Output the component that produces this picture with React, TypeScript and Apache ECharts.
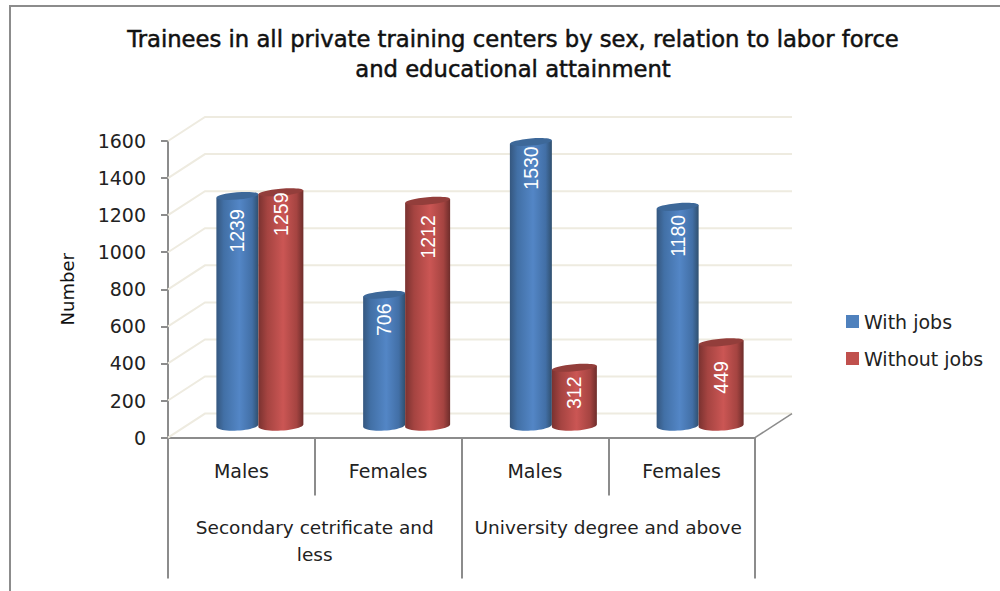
import React, { useEffect, useRef } from "react";
import * as echarts from "echarts";

const subCategories = ["Males", "Females", "Males", "Females"];
const groupCategories = ["Secondary cetrificate and\nless", "University degree and above"];
const withJobs = [1239, 706, 1530, 1180];
const withoutJobs = [1259, 1212, 312, 449];
const yTicks = [0, 200, 400, 600, 800, 1000, 1200, 1400, 1600];
const titleText = "Trainees in all private training centers by sex, relation to labor force\nand educational attainment";

const withJobsLabelDrop = [35, 25, 26, 29];
const withoutJobsLabelDrop = [22, 36, 25, 35];

const DEPTH_X = 37;
const DEPTH_Y = -24;
const FONT = "'DejaVu Sans', 'Open Sans', sans-serif";
const AXIS_GRAY = "#8c8c8c";
const WALL = "#eeebe0";
const TILT = (5 * Math.PI) / 180;

const blueGrad = () =>
  new echarts.graphic.LinearGradient(0, 0, 1, 0, [
    { offset: 0, color: "#35577f" },
    { offset: 0.18, color: "#4270a6" },
    { offset: 0.55, color: "#5386c6" },
    { offset: 0.85, color: "#426fa6" },
    { offset: 1, color: "#30506f" },
  ]);
const redGrad = () =>
  new echarts.graphic.LinearGradient(0, 0, 1, 0, [
    { offset: 0, color: "#7a3230" },
    { offset: 0.2, color: "#a54441" },
    { offset: 0.55, color: "#cb5654" },
    { offset: 0.85, color: "#a54441" },
    { offset: 1, color: "#6e2d2b" },
  ]);

function cylinderRenderer(
  drops: number[],
  shift: number,
  width: number,
  grad: () => any,
  topColor: string
) {
  return (params: any, api: any) => {
    const idx = api.value(0);
    const val = api.value(1);
    const base = api.coord([idx, 0]);
    const top = api.coord([idx, val]);
    const cx = base[0] + 17.5 + shift;
    const baseY = base[1] + DEPTH_Y / 2;
    const topY = top[1] + DEPTH_Y / 2;
    const r = width / 2;
    const rise = r * Math.sin(TILT);
    const pts: number[][] = [[cx + r, topY - rise], [cx - r, topY + rise]];
    const steps = 24;
    for (let i = 0; i <= steps; i++) {
      const a = Math.PI - (Math.PI * i) / steps;
      const ex = Math.cos(a) * r;
      const ey = Math.sin(a) * 5;
      pts.push([cx + ex, baseY + ey - (ex / r) * rise * 0.6]);
    }
    return {
      type: "group",
      children: [
        { type: "polygon", shape: { points: pts }, style: { fill: grad() } },
        {
          type: "ellipse",
          x: cx,
          y: topY,
          rotation: TILT,
          shape: { cx: 0, cy: 0, rx: r, ry: 3.6 },
          style: { fill: topColor },
        },
        {
          type: "text",
          x: cx,
          y: topY + drops[params.dataIndex],
          rotation: Math.PI / 2,
          style: {
            text: String(val),
            fill: "#ffffff",
            font: "19.5px 'Liberation Sans', Arial, sans-serif",
            align: "center",
            verticalAlign: "middle",
          },
        },
      ],
    };
  };
}

function wallRenderer(params: any, api: any) {
  const val = api.value(0);
  const p = api.coord([0, val]);
  const left = params.coordSys.x;
  const right = left + params.coordSys.width;
  const backY = p[1] + DEPTH_Y;
  const children: any[] = [
    {
      type: "polyline",
      shape: { points: [[left, p[1]], [left + DEPTH_X, backY], [right + DEPTH_X, backY]] },
      style: { stroke: WALL, lineWidth: 2, fill: "none" },
    },
  ];
  if (val === 0) {
    children.push({
      type: "line",
      shape: { x1: right, y1: p[1], x2: right + DEPTH_X, y2: backY },
      style: { stroke: AXIS_GRAY, lineWidth: 1.5 },
    });
  }
  return { type: "group", children };
}

export default function App() {
  const ref = useRef<HTMLDivElement>(null);
  useEffect(() => {
    const chart = echarts.init(ref.current!, undefined, { renderer: "svg" });
    chart.setOption({
      animation: false,
      backgroundColor: "#ffffff",
      textStyle: { fontFamily: FONT },
      title: {
        text: titleText,
        left: 508,
        top: 19,
        textAlign: "center",
        textStyle: {
          fontFamily: FONT,
          fontSize: 22.7,
          fontWeight: "normal",
          lineHeight: 30,
          color: "#111111",
          textBorderColor: "#111111",
          textBorderWidth: 0.5,
        },
      },
      legend: {
        data: ["With jobs", "Without jobs"],
        orient: "vertical",
        left: 841,
        top: 307,
        itemWidth: 13,
        itemHeight: 13,
        itemGap: 18,
        icon: "rect",
        textStyle: { fontFamily: FONT, fontSize: 19, color: "#222222" },
      },
      grid: { left: 168, top: 141, width: 587, height: 296.6 },
      xAxis: [
        {
          type: "category",
          position: "bottom",
          data: subCategories,
          axisLine: { show: true, lineStyle: { color: AXIS_GRAY, width: 2 } },
          axisTick: { show: true, length: 58, interval: 0, lineStyle: { color: AXIS_GRAY, width: 2 } },
          axisLabel: { interval: 0, margin: 24, fontSize: 19, color: "#222222", fontFamily: FONT },
        },
        {
          type: "category",
          position: "bottom",
          data: groupCategories,
          axisLine: { show: false },
          axisTick: { show: true, length: 141, interval: 0, lineStyle: { color: AXIS_GRAY, width: 2 } },
          axisLabel: {
            interval: 0,
            margin: 76,
            fontSize: 18.5,
            lineHeight: 27,
            verticalAlign: "top",
            color: "#222222",
            fontFamily: FONT,
          },
        },
      ],
      yAxis: {
        type: "value",
        min: 0,
        max: 1600,
        interval: 200,
        name: "Number",
        nameLocation: "middle",
        nameRotate: 90,
        nameGap: 92,
        nameTextStyle: { fontSize: 18, color: "#111111", fontFamily: FONT },
        axisLine: { show: true, onZero: false, lineStyle: { color: AXIS_GRAY, width: 2 } },
        axisTick: { show: true, length: 7, lineStyle: { color: AXIS_GRAY, width: 2 } },
        axisLabel: {
          margin: 22,
          fontSize: 19,
          color: "#222222",
          fontFamily: FONT,
          formatter: (v: number) => String(v),
        },
        splitLine: { show: false },
      },
      series: [
        {
          type: "custom",
          name: "wall",
          silent: true,
          z: 1,
          data: yTicks.map((v) => [v]),
          encode: { y: 0 },
          renderItem: wallRenderer,
        },
        {
          type: "custom",
          name: "With jobs",
          z: 2,
          itemStyle: { color: "#4f81bd" },
          data: withJobs.map((v, i) => [i, v]),
          encode: { x: 0, y: 1 },
          renderItem: cylinderRenderer(withJobsLabelDrop, -21.5, 42, blueGrad, "#3d6899"),
        },
        {
          type: "custom",
          name: "Without jobs",
          z: 3,
          itemStyle: { color: "#c0504d" },
          data: withoutJobs.map((v, i) => [i, v]),
          encode: { x: 0, y: 1 },
          renderItem: cylinderRenderer(withoutJobsLabelDrop, 22, 45, redGrad, "#933e3b"),
        },
      ],
      graphic: [
        {
          type: "polyline",
          silent: true,
          shape: { points: [[10, 591], [10, 6], [1000, 6]] },
          style: { stroke: "#8c8c8c", lineWidth: 2, fill: "none" },
        },
      ],
    });
    return () => chart.dispose();
  }, []);
  return <div ref={ref} style={{ position: "fixed", left: 0, top: 0, width: 1000, height: 591 }} />;
}
